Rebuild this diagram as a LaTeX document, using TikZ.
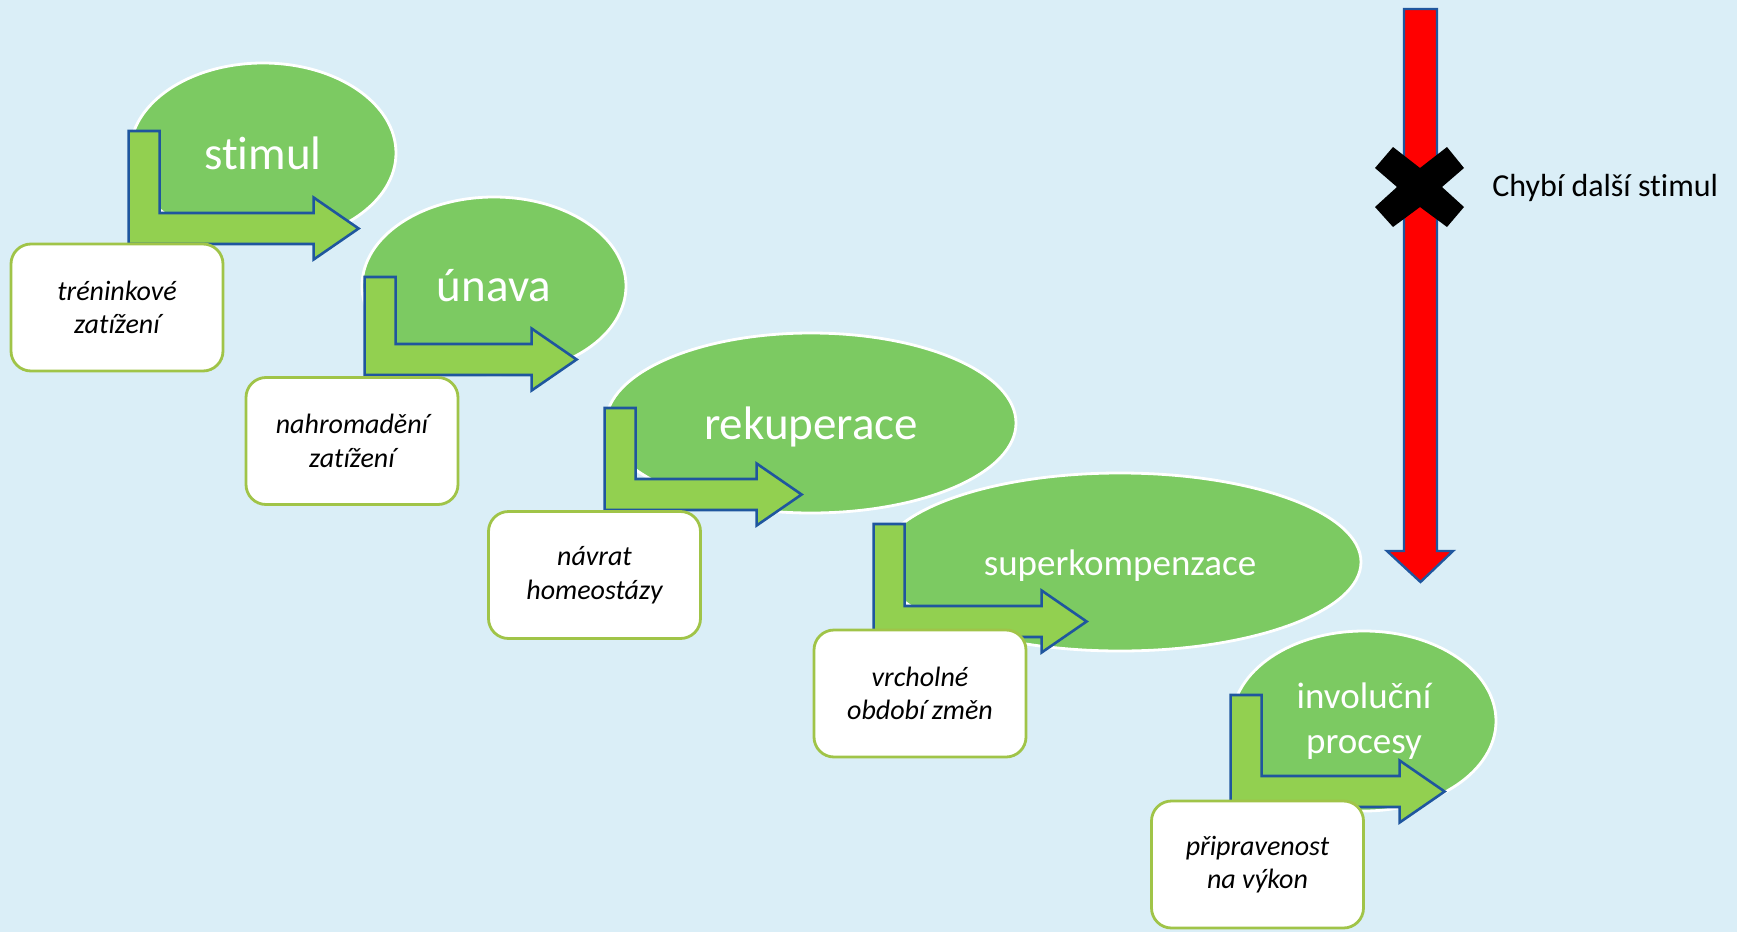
\documentclass[tikz,border=0pt]{standalone}
\usepackage{fontspec}
\setmainfont{Carlito}[Ligatures=NoCommon]
\usepackage{tikz}
\usetikzlibrary{positioning,calc,shapes.geometric}
\definecolor{skyback}{RGB}{218,238,247}
\definecolor{phasegreen}{RGB}{124,202,98}
\definecolor{bendgreen}{RGB}{146,208,80}
\definecolor{edgeblue}{RGB}{31,86,158}
\definecolor{boxolive}{RGB}{160,196,72}

\begin{document}
\begin{tikzpicture}[
  x=0.5pt, y=-0.5pt,
  phase/.style={ellipse, draw=white, line width=1.4pt, fill=phasegreen, text=white, inner sep=0pt, align=center, font=\fontsize{23.5}{28.5}\selectfont},
  phasesm/.style={phase, font=\fontsize{18.5}{22.2}\selectfont},
  note/.style={draw=boxolive, line width=1.4pt, rounded corners=10pt, fill=white, minimum width=106pt, minimum height=63.5pt, inner sep=2pt, align=center, font=\itshape\fontsize{14}{16.8}\selectfont},
  pics/bend/.style args={#1/#2}{code={
    \filldraw[fill=bendgreen, draw=edgeblue, line width=1.3pt, line join=miter]
      (0,0) -- (31,0) -- (31,{#2-31}) -- ({#1-45},{#2-31}) -- ({#1-45},{#2-46.5}) -- (#1,{#2-15.5})
      -- ({#1-45},{#2+15.5}) -- ({#1-45},#2) -- (0,#2) -- cycle;
  }},
]
% ---- background ----
\fill[skyback] (0,0) rectangle (1737,932);
\useasboundingbox (0,0) rectangle (1737,932);
% ---- phases ----
\node[phase, minimum width=133pt, minimum height=90pt] (stimul) at (263,153) {stimul};
\node[phase, minimum width=132pt, minimum height=89pt] (unava) at (494,286) {únava};
\node[phase, minimum width=205pt, minimum height=90pt] (rekup) at (811,423) {\raisebox{-2pt}[\height][\depth]{rekuperace}};
\node[phasesm, minimum width=241pt, minimum height=89pt] (superk) at (1120,562) {\raisebox{-2pt}[\height][\depth]{superkompenzace}};
\node[phasesm, minimum width=132pt, minimum height=90pt] (invol) at (1364,721) {involuční\\ procesy};
% ---- bent arrows ----
\pic at ($(stimul.west)+(0,-22)$) {bend=230/113};
\pic at ($(unava.west)+(4,-9)$) {bend=212/98};
\pic at ($(rekup.west)+(0,-15)$) {bend=197/102};
\pic at ($(superk.west)+(-4,-38)$) {bend=213/113};
\pic at ($(invol.west)+(0,-26)$) {bend=214/112};
% ---- notes ----
\node[note] (trenink) at (117,307.5) {tréninkové\\ zatížení};
\node[note] (nahrom) at (352,441) {nahromadění\\ zatížení};
\node[note] (navrat) at (594.5,575) {návrat\\ homeostázy};
\node[note] (vrchol) at (920,693.5) {vrcholné\\ období změn};
\node[note] (priprav) at (1257.5,864.5) {připravenost\\ na výkon};
% ---- missing stimulus ----
\filldraw[fill=red, draw=edgeblue, line width=1.2pt, line join=miter]
  (1404,9) -- (1437,9) -- (1437,551) -- (1453,551) -- (1420.5,582) -- (1387,551) -- (1404,551) -- cycle;
\coordinate (cross) at (1420,187);
\fill[black, shift={(cross)}]
  (-45,-19) -- (-27,-40) -- (0,-19) -- (27,-40) -- (44,-19) -- (22,0) -- (44,20)
  -- (27,40) -- (0,20) -- (-27,40) -- (-45,20) -- (-23,0) -- cycle;
\node[anchor=west, inner sep=0pt, font=\fontsize{16}{19}\selectfont] (nostim) at ($(cross)+(72,1)$) {Chybí další stimul};
\end{tikzpicture}
\end{document}
